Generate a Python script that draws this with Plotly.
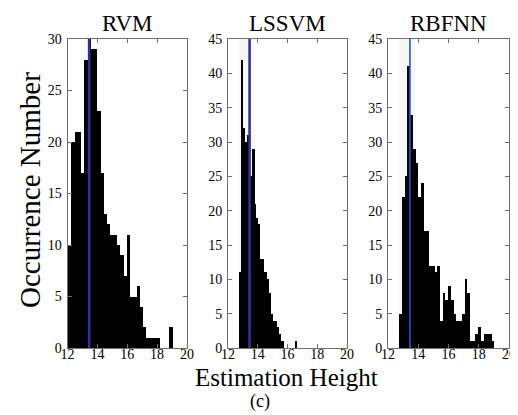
import plotly.graph_objects as go

# ---------------- data ----------------
x_range = [12, 20]
x_ticks = [12, 14, 16, 18, 20]
true_height = 13.45

panel_titles = ["RVM", "LSSVM", "RBFNN"]
y_max = [30, 45, 45]
y_tick_step = 5

rvm_bin_width = 0.219
rvm_centers = [12.11, 12.33, 12.55, 12.77, 12.98, 13.20, 13.42, 13.64, 13.86, 14.08,
               14.30, 14.52, 14.73, 14.95, 15.17, 15.39, 15.61, 15.83, 16.05, 16.27,
               16.48, 16.70, 16.92, 17.14, 17.36, 17.58, 17.80, 18.02, 18.23, 18.45,
               18.67, 18.89]
rvm_counts = [10, 20, 21, 21, 17, 28, 30, 29, 29, 23,
              17, 13, 12, 11, 11, 10, 9, 7, 11, 5,
              5, 6, 4, 2, 1, 1, 1, 1, 0, 0,
              0, 2]

lssvm_bin_width = 0.125
lssvm_centers = [12.84, 12.97, 13.09, 13.22, 13.34, 13.47, 13.59, 13.72, 13.84, 13.97,
                 14.09, 14.22, 14.34, 14.47, 14.59, 14.72, 14.84, 14.97, 15.09, 15.22,
                 15.34, 15.47, 15.59, 15.72, 15.84, 15.97, 16.09, 16.22, 16.34, 16.47,
                 16.59]
lssvm_counts = [11, 42, 32, 30, 31, 23, 25, 29, 21, 19,
                18, 13, 13, 11, 11, 10, 8, 5, 4, 4,
                3, 2, 1, 1, 0, 0, 0, 0, 0, 0,
                1]

rbfnn_bin_width = 0.18
rbfnn_centers = [12.83, 13.01, 13.19, 13.37, 13.55, 13.73, 13.91, 14.09, 14.27, 14.45,
                 14.63, 14.81, 14.99, 15.17, 15.35, 15.53, 15.71, 15.89, 16.07, 16.25,
                 16.43, 16.61, 16.79, 16.97, 17.15, 17.33, 17.51, 17.69, 17.87, 18.05,
                 18.23, 18.41, 18.59, 18.77, 18.95]
rbfnn_counts = [5, 22, 25, 41, 34, 29, 27, 22, 24, 17,
                17, 12, 12, 11, 12, 4, 8, 7, 9, 7,
                5, 4, 4, 5, 10, 8, 1, 1, 2, 3,
                1, 2, 2, 2, 1]

x_label = "Estimation Height"
y_label = "Occurrence Number"
caption = "(c)"

# ---------------- figure ----------------
# the page body has an 8px margin, so the figure is drawn 8px in from the
# window corner; positions below are given in window pixels and converted.
OFF = 8
W, H = 518 - OFF, 415 - OFF


def px(vx):
    return (vx - OFF) / W


def py(vy):
    return 1 - (vy - OFF) / H


SERIF = "Liberation Serif, Times New Roman, serif"
panels = [
    (rvm_centers, rvm_counts, rvm_bin_width, "#34309a", 2.6),
    (lssvm_centers, lssvm_counts, lssvm_bin_width, "#34309a", 2.6),
    (rbfnn_centers, rbfnn_counts, rbfnn_bin_width, "#2557d0", 1.6),
]
x_dom = [[px(67.5), px(187)], [px(228), px(347)], [px(388), px(509)]]
y_dom = [py(348), py(39)]
title_x = [(d[0] + d[1]) / 2 for d in x_dom]

fig = go.Figure()
layout = dict(
    width=W, height=H,
    margin=dict(l=0, r=0, t=0, b=0, pad=0),
    paper_bgcolor="white", plot_bgcolor="white",
    showlegend=False, bargap=0,
    font=dict(family=SERIF, color="black", size=14),
    shapes=[], annotations=[],
)

for i, (cx, cy, bw, lc, lw) in enumerate(panels):
    n = "" if i == 0 else str(i + 1)
    xa, ya = "x" + n, "y" + n
    fig.add_trace(go.Bar(
        x=cx, y=cy, width=bw, xaxis=xa, yaxis=ya,
        marker=dict(color="black", line=dict(width=0)),
        hoverinfo="skip",
    ))
    common = dict(
        automargin=False,
        showline=True, linecolor="#6e6e6e", linewidth=1, mirror="ticks",
        ticks="inside", ticklen=4, tickcolor="#6e6e6e", tickwidth=1,
        showgrid=False, zeroline=False,
        tickfont=dict(family=SERIF, size=14, color="black"),
    )
    layout["xaxis" + n] = dict(
        common, domain=x_dom[i], range=x_range, tickvals=x_ticks,
        anchor=ya, ticklabelstandoff=-7,
    )
    layout["yaxis" + n] = dict(
        common, domain=y_dom, range=[0, y_max[i]], dtick=y_tick_step, tick0=0,
        anchor=xa, ticklabelstandoff=2,
    )
    if i > 0:
        layout["shapes"].append(dict(
            type="rect", xref=xa, yref=ya + " domain",
            x0=true_height - 0.7, x1=true_height + 0.35, y0=0, y1=1,
            fillcolor="#f8f7f3", line=dict(width=0), layer="below",
        ))
    layout["shapes"].append(dict(
        type="line", xref=xa, yref=ya + " domain",
        x0=true_height, x1=true_height, y0=0, y1=1,
        line=dict(color=lc, width=lw), layer="above",
    ))
    layout["annotations"].append(dict(
        text=panel_titles[i], xref="paper", yref="paper",
        x=title_x[i], y=py(23.5), xanchor="center", yanchor="middle",
        showarrow=False, font=dict(family=SERIF, size=23, color="black"),
    ))

layout["annotations"] += [
    dict(text=x_label, xref="paper", yref="paper", x=px(286), y=py(377),
         xanchor="center", yanchor="middle", showarrow=False,
         font=dict(family=SERIF, size=25, color="black")),
    dict(text=y_label, xref="paper", yref="paper", x=px(30), y=py(190),
         xanchor="center", yanchor="middle", showarrow=False, textangle=-90,
         font=dict(family=SERIF, size=29, color="black")),
    dict(text=caption, xref="paper", yref="paper", x=px(260), y=py(401),
         xanchor="center", yanchor="middle", showarrow=False,
         font=dict(family=SERIF, size=18, color="black")),
]

fig.update_layout(**layout)
fig.write_html("out.html")
